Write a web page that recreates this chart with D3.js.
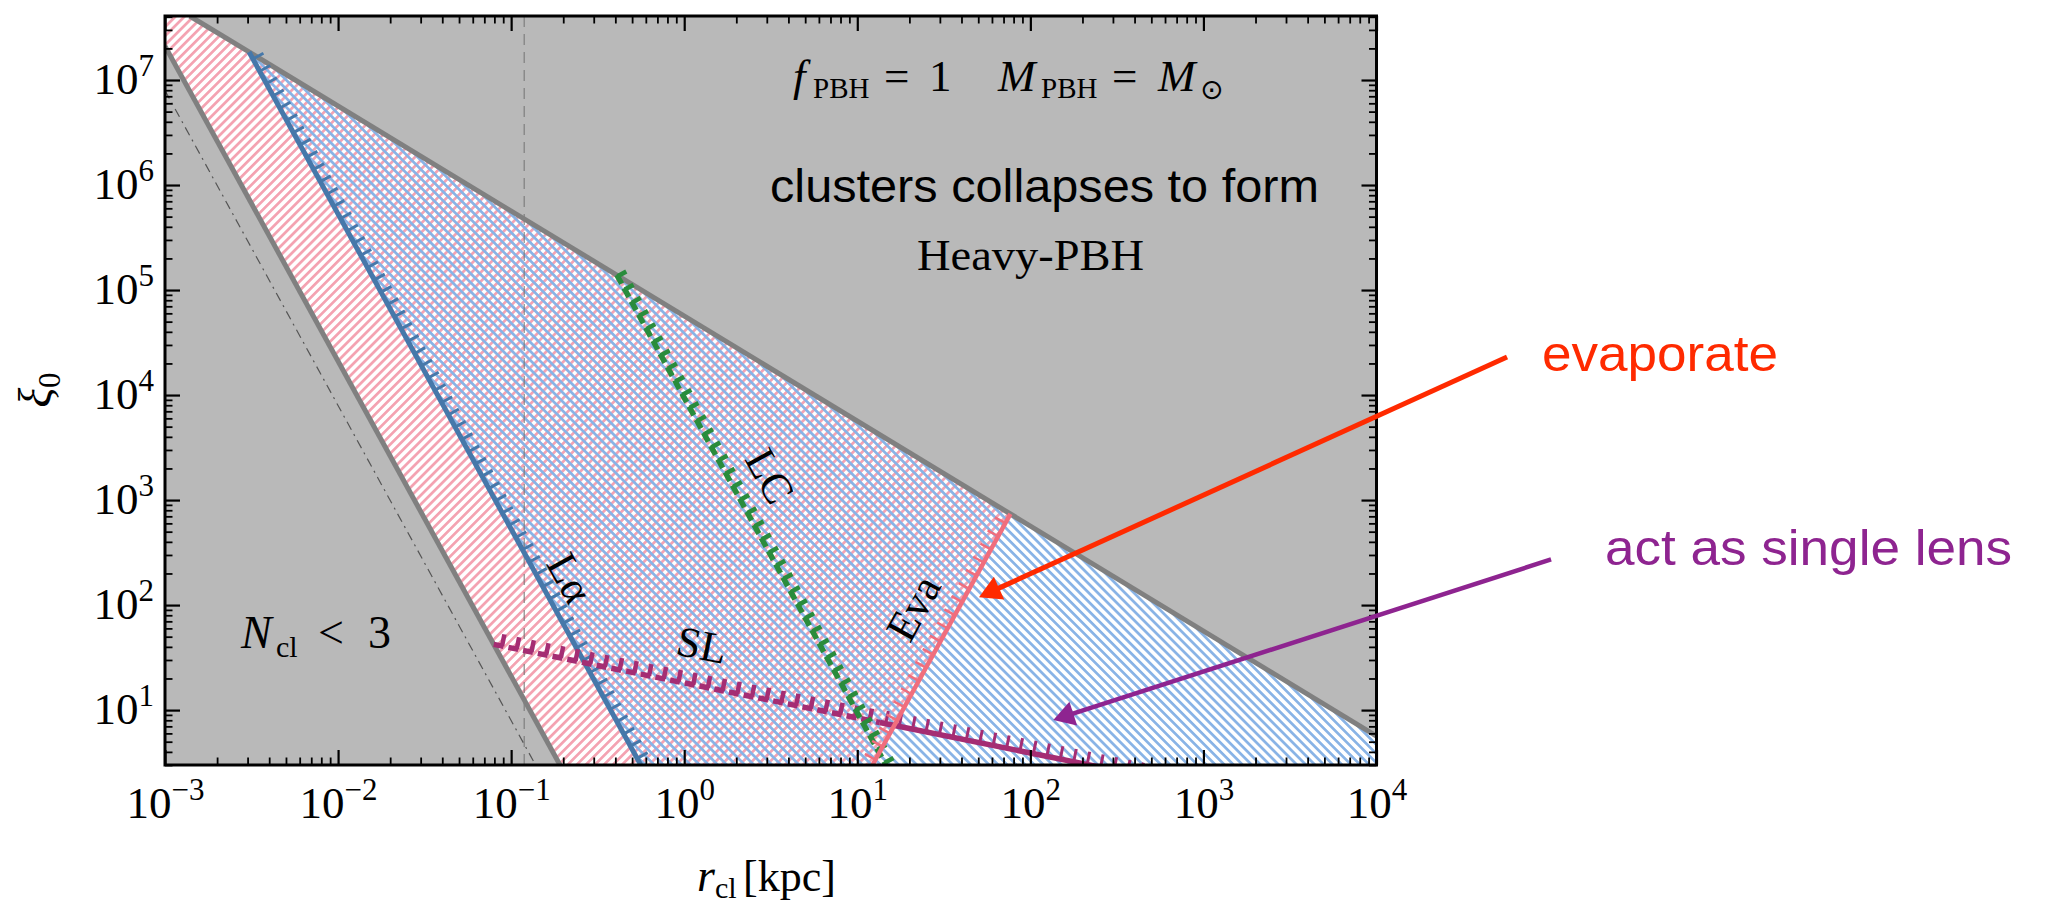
<!DOCTYPE html>
<html>
<head>
<meta charset="utf-8">
<script src="https://cdn.jsdelivr.net/npm/d3@7"></script>
<style>
  html, body { margin: 0; padding: 0; background: #fff; }
  svg { display: block; }
</style>
</head>
<body>
<svg id="chart" width="2047" height="909"></svg>
<script>
// ---- axis extents and tick labels (powers of ten) ----
const rDomain = [1e-3, 1e4];          // r_cl [kpc]
const xiDomain = [3, 4.07e7];         // xi_0
const xTickExps = [-3, -2, -1, 0, 1, 2, 3, 4];
const yTickExps = [1, 2, 3, 4, 5, 6, 7];

// ---- boundary curves: endpoints as [r_cl, xi_0] ----
const upperLine   = [[1.39e-3, 4.07e7], [1e4, 5.66]];   // collapse bound
const nclLine     = [[1e-3, 2.1e7], [0.1915, 3]];        // N_cl = 3
const dashDotLine = [[1e-3, 7.94e6], [0.1384, 3]];
const lalphaLine  = [[3.06e-3, 1.85e7], [0.561, 3]];     // Lyman-alpha
const lcLine      = [[0.408, 1.39e5], [14.64, 3]];       // light cone
const evaLine     = [[12.25, 3], [76.7, 738]];           // evaporation
const slDashed    = [[0.0793, 42.2], [13.5, 7.62]];      // single lens
const slSolid     = [[13.5, 7.62], [500, 2.28]];
const rVertical   = 0.119;

// ---- annotation arrows: [tail, tip] in [r_cl, xi_0] ----
const evapArrow = [[5.68e4, 2.3e4], [50.5, 119]];
const lensArrow = [[1.02e5, 272], [135.7, 8.04]];

// ---- in-plot curve labels: [r_cl, xi_0] centre ----
const curveLabels = [
  { text: "Lα",  at: [0.219, 181],  along: lalphaLine },
  { text: "LC",  at: [3.13, 1694],  along: lcLine },
  { text: "Eva", at: [21.1, 93.6],  along: evaLine },
  { text: "SL",  at: [1.267, 41.6], along: slDashed }
];

const colors = {
  grayFill: "#b9b9b9", grayLine: "#808080",
  pinkHatch: "#f4a2b1", blueHatch: "#88b3e6",
  lalpha: "#4678aa", lc: "#2a8c3c", sl: "#a52d73", eva: "#f06e7d",
  red: "#ff2a00", purple: "#8e2490"
};

const plot = { left: 165, right: 1376.5, top: 16, bottom: 765 };
const serif = "'Liberation Serif', 'Times New Roman', serif";
const sans = "'Liberation Sans', Arial, Helvetica, sans-serif";

const svg = d3.select("#chart");
const x = d3.scaleLog().domain(rDomain).range([plot.left, plot.right]);
const y = d3.scaleLog().domain(xiDomain).range([plot.bottom, plot.top]);
const toPx = d => [x(d[0]), y(d[1])];
const polyPath = pts => d3.line()(pts.map(toPx)) + "Z";

// ---- defs: clip and hatch patterns ----
const defs = svg.append("defs");
defs.append("clipPath").attr("id", "plotClip").append("rect")
  .attr("x", plot.left).attr("y", plot.top)
  .attr("width", plot.right - plot.left).attr("height", plot.bottom - plot.top);

function hatch(id, color, angle) {
  const p = defs.append("pattern").attr("id", id)
    .attr("patternUnits", "userSpaceOnUse")
    .attr("width", 6.4).attr("height", 6.4)
    .attr("patternTransform", `rotate(${angle})`);
  p.append("rect").attr("x", 0).attr("y", 0).attr("width", 6.4).attr("height", 2.7).attr("fill", color);
}
hatch("hatchPink", colors.pinkHatch, -45);
hatch("hatchBlue", colors.blueHatch, 45);

const g = svg.append("g").attr("clip-path", "url(#plotClip)");

// excluded regions (gray) and allowed region (white)
g.append("rect").attr("x", plot.left).attr("y", plot.top)
  .attr("width", plot.right - plot.left).attr("height", plot.bottom - plot.top)
  .attr("fill", colors.grayFill);

const corner = {
  tl: [rDomain[0], xiDomain[1]], br: [rDomain[1], xiDomain[0]]
};
const allowed = [nclLine[0], corner.tl, upperLine[0], upperLine[1], corner.br, nclLine[1]];
const pinkRegion = [nclLine[0], corner.tl, upperLine[0], evaLine[1], evaLine[0], nclLine[1]];
const blueRegion = [lalphaLine[0], upperLine[1], corner.br, lalphaLine[1]];

g.append("path").attr("d", polyPath(allowed)).attr("fill", "#fff");
g.append("path").attr("d", polyPath(pinkRegion)).attr("fill", "url(#hatchPink)");
g.append("path").attr("d", polyPath(blueRegion)).attr("fill", "url(#hatchBlue)");

// reference lines
g.append("line")
  .attr("x1", x(rVertical)).attr("x2", x(rVertical))
  .attr("y1", plot.top).attr("y2", plot.bottom)
  .attr("stroke", "#777").attr("stroke-width", 1.3)
  .attr("stroke-dasharray", "11,7").attr("opacity", 0.8);

g.append("path").attr("d", d3.line()(dashDotLine.map(toPx)))
  .attr("stroke", "#555").attr("stroke-width", 1.2).attr("fill", "none")
  .attr("stroke-dasharray", "9,5,2,5");

// gray boundaries
[upperLine, nclLine].forEach(l => {
  g.append("path").attr("d", d3.line()(l.map(toPx)))
    .attr("stroke", colors.grayLine).attr("stroke-width", 5).attr("fill", "none");
});

// line with ticks on the (dy, -dx) side
function ticked(pts, o) {
  const p = pts.map(toPx);
  g.append("path").attr("d", d3.line()(p))
    .attr("stroke", o.color).attr("stroke-width", o.width).attr("fill", "none")
    .attr("stroke-dasharray", o.dash || null);
  const [x0, y0] = p[0], [x1, y1] = p[1];
  const L = Math.hypot(x1 - x0, y1 - y0);
  const ux = (x1 - x0) / L, uy = (y1 - y0) / L;
  const nx = uy, ny = -ux;
  const segs = [];
  for (let s = o.offset; s <= L; s += o.spacing) {
    const px = x0 + ux * s, py = y0 + uy * s;
    segs.push([px, py, px + nx * o.tickLen, py + ny * o.tickLen]);
  }
  g.append("g").selectAll("line").data(segs).enter().append("line")
    .attr("x1", d => d[0]).attr("y1", d => d[1])
    .attr("x2", d => d[2]).attr("y2", d => d[3])
    .attr("stroke", o.color).attr("stroke-width", o.tickWidth);
}

ticked(lalphaLine, { color: colors.lalpha, width: 5, tickLen: 12, tickWidth: 3, spacing: 14, offset: 8 });
ticked(slDashed, { color: colors.sl, width: 5.5, dash: "10,5", tickLen: 12, tickWidth: 4.5, spacing: 15, offset: 8.5 });
ticked(slSolid, { color: colors.sl, width: 5.5, tickLen: 13, tickWidth: 3, spacing: 13.7, offset: 6 });
ticked(lcLine, { color: colors.lc, width: 5.5, dash: "10,5", tickLen: 10, tickWidth: 4.5, spacing: 15, offset: 1.5 });
ticked(evaLine, { color: colors.eva, width: 4.5, tickLen: 12, tickWidth: 2.5, spacing: 15, offset: 6 });

// curve labels, rotated along their curve
curveLabels.forEach(c => {
  const p = c.along.map(toPx);
  let ang = Math.atan2(p[1][1] - p[0][1], p[1][0] - p[0][0]) * 180 / Math.PI;
  if (ang > 90) ang -= 180;
  if (ang < -90) ang += 180;
  const [cx, cy] = toPx(c.at);
  g.append("text")
    .attr("transform", `translate(${cx},${cy}) rotate(${ang})`)
    .attr("text-anchor", "middle").attr("dominant-baseline", "central")
    .attr("font-family", serif).attr("font-size", 43).attr("fill", "#000")
    .text(c.text);
});

// ---- in-plot text ----
const txt = svg.append("g").attr("font-family", serif).attr("fill", "#000");

const fLine = txt.append("text").attr("y", 91).attr("font-size", 45);
fLine.append("tspan").attr("x", 793).attr("font-style", "italic").text("f");
fLine.append("tspan").attr("x", 813).attr("dy", 7).attr("font-size", 29).text("PBH");
fLine.append("tspan").attr("x", 884).attr("dy", -7).text("=");
fLine.append("tspan").attr("x", 929).text("1");
fLine.append("tspan").attr("x", 998).attr("font-style", "italic").text("M");
fLine.append("tspan").attr("x", 1041).attr("dy", 7).attr("font-size", 29).text("PBH");
fLine.append("tspan").attr("x", 1112).attr("dy", -7).text("=");
fLine.append("tspan").attr("x", 1158).attr("font-style", "italic").text("M");
fLine.append("tspan").attr("x", 1200).attr("dy", 8).attr("font-size", 28)
  .attr("font-family", "'DejaVu Sans', sans-serif").text("⊙");

txt.append("text").attr("x", 770).attr("y", 201.7)
  .attr("font-family", sans).attr("font-size", 46)
  .attr("textLength", 549).attr("lengthAdjust", "spacingAndGlyphs")
  .text("clusters collapses to form");

txt.append("text").attr("x", 917).attr("y", 270).attr("font-size", 44)
  .attr("textLength", 227).attr("lengthAdjust", "spacingAndGlyphs")
  .text("Heavy-PBH");

const nLine = txt.append("text").attr("y", 648).attr("font-size", 46);
nLine.append("tspan").attr("x", 241).attr("font-style", "italic").text("N");
nLine.append("tspan").attr("x", 276).attr("dy", 9).attr("font-size", 30).text("cl");
nLine.append("tspan").attr("x", 318).attr("dy", -9).text("<");
nLine.append("tspan").attr("x", 368).text("3");

// ---- axes ----
const axes = svg.append("g");
const majorX = xTickExps.map(e => Math.pow(10, e));
const majorY = yTickExps.map(e => Math.pow(10, e));
const isMajor = v => Math.abs(Math.log10(v) - Math.round(Math.log10(v))) < 1e-9;
const minorX = x.ticks().filter(v => !isMajor(v));
const minorY = y.ticks().filter(v => !isMajor(v));

function addAxis(axisFn, scale, values, size, transform, width) {
  const a = axes.append("g").attr("transform", transform)
    .call(axisFn(scale).tickValues(values).tickSizeInner(-size).tickSizeOuter(0).tickFormat(() => ""));
  a.select(".domain").remove();
  a.selectAll(".tick line").attr("stroke", "#000").attr("stroke-width", width);
  return a;
}
const bottomMajor = addAxis(d3.axisBottom, x, majorX, 15, `translate(0,${plot.bottom})`, 2.2);
addAxis(d3.axisBottom, x, minorX, 7.5, `translate(0,${plot.bottom})`, 1.8);
addAxis(d3.axisTop, x, majorX, 15, `translate(0,${plot.top})`, 2.2);
addAxis(d3.axisTop, x, minorX, 7.5, `translate(0,${plot.top})`, 1.8);
const leftMajor = addAxis(d3.axisLeft, y, majorY, 15, `translate(${plot.left},0)`, 2.2);
addAxis(d3.axisLeft, y, minorY, 7.5, `translate(${plot.left},0)`, 1.8);
addAxis(d3.axisRight, y, majorY, 15, `translate(${plot.right},0)`, 2.2);
addAxis(d3.axisRight, y, minorY, 7.5, `translate(${plot.right},0)`, 1.8);

const fmtExp = e => (e < 0 ? "\u2212" + Math.abs(e) : String(e));

bottomMajor.selectAll(".tick text").remove();
bottomMajor.selectAll(".tick").each(function (d) {
  const t = d3.select(this).append("text")
    .attr("y", 53).attr("text-anchor", "middle")
    .attr("font-family", serif).attr("font-size", 45).attr("fill", "#000");
  t.append("tspan").text("10");
  t.append("tspan").attr("dy", -18).attr("font-size", 31).text(fmtExp(Math.round(Math.log10(d))));
});

leftMajor.selectAll(".tick text").remove();
leftMajor.selectAll(".tick").each(function (d) {
  const t = d3.select(this).append("text")
    .attr("x", -11).attr("y", 13).attr("text-anchor", "end")
    .attr("font-family", serif).attr("font-size", 45).attr("fill", "#000");
  t.append("tspan").text("10");
  t.append("tspan").attr("dy", -18).attr("font-size", 31).text(fmtExp(Math.round(Math.log10(d))));
});

// frame
axes.append("rect").attr("x", plot.left).attr("y", plot.top)
  .attr("width", plot.right - plot.left).attr("height", plot.bottom - plot.top)
  .attr("fill", "none").attr("stroke", "#000").attr("stroke-width", 3);

// axis titles
const xt = axes.append("text").attr("y", 891).attr("font-family", serif).attr("font-size", 46).attr("fill", "#000");
xt.append("tspan").attr("x", 697).attr("font-style", "italic").text("r");
xt.append("tspan").attr("x", 715).attr("dy", 7).attr("font-size", 30).text("cl");
xt.append("tspan").attr("x", 743).attr("dy", -7).attr("font-size", 44).text("[kpc]");

const yt = axes.append("text").attr("transform", "translate(51,390) rotate(-90)")
  .attr("text-anchor", "middle").attr("font-family", serif).attr("font-size", 46).attr("fill", "#000");
yt.append("tspan").attr("font-style", "italic").text("ξ");
yt.append("tspan").attr("dy", 9).attr("font-size", 31).text("0");

// ---- annotation arrows and notes ----
function arrow(pair, color, width, headLen, headHalf) {
  const [tx, ty] = toPx(pair[0]);
  const [hx, hy] = toPx(pair[1]);
  const L = Math.hypot(hx - tx, hy - ty);
  const ux = (hx - tx) / L, uy = (hy - ty) / L;
  const bx = hx - ux * headLen, by = hy - uy * headLen;
  svg.append("line").attr("x1", tx).attr("y1", ty).attr("x2", bx + ux * 2).attr("y2", by + uy * 2)
    .attr("stroke", color).attr("stroke-width", width);
  svg.append("path")
    .attr("d", `M${hx},${hy}L${bx - uy * headHalf},${by + ux * headHalf}L${bx + uy * headHalf},${by - ux * headHalf}Z`)
    .attr("fill", color);
}
arrow(evapArrow, colors.red, 5, 22, 12.5);
arrow(lensArrow, colors.purple, 4.5, 21, 12.5);

svg.append("text").attr("x", 1542).attr("y", 371)
  .attr("font-family", sans).attr("font-size", 50).attr("fill", colors.red)
  .attr("textLength", 236).attr("lengthAdjust", "spacingAndGlyphs")
  .text("evaporate");
svg.append("text").attr("x", 1605).attr("y", 565)
  .attr("font-family", sans).attr("font-size", 50).attr("fill", colors.purple)
  .attr("textLength", 407).attr("lengthAdjust", "spacingAndGlyphs")
  .text("act as single lens");
</script>
</body>
</html>
